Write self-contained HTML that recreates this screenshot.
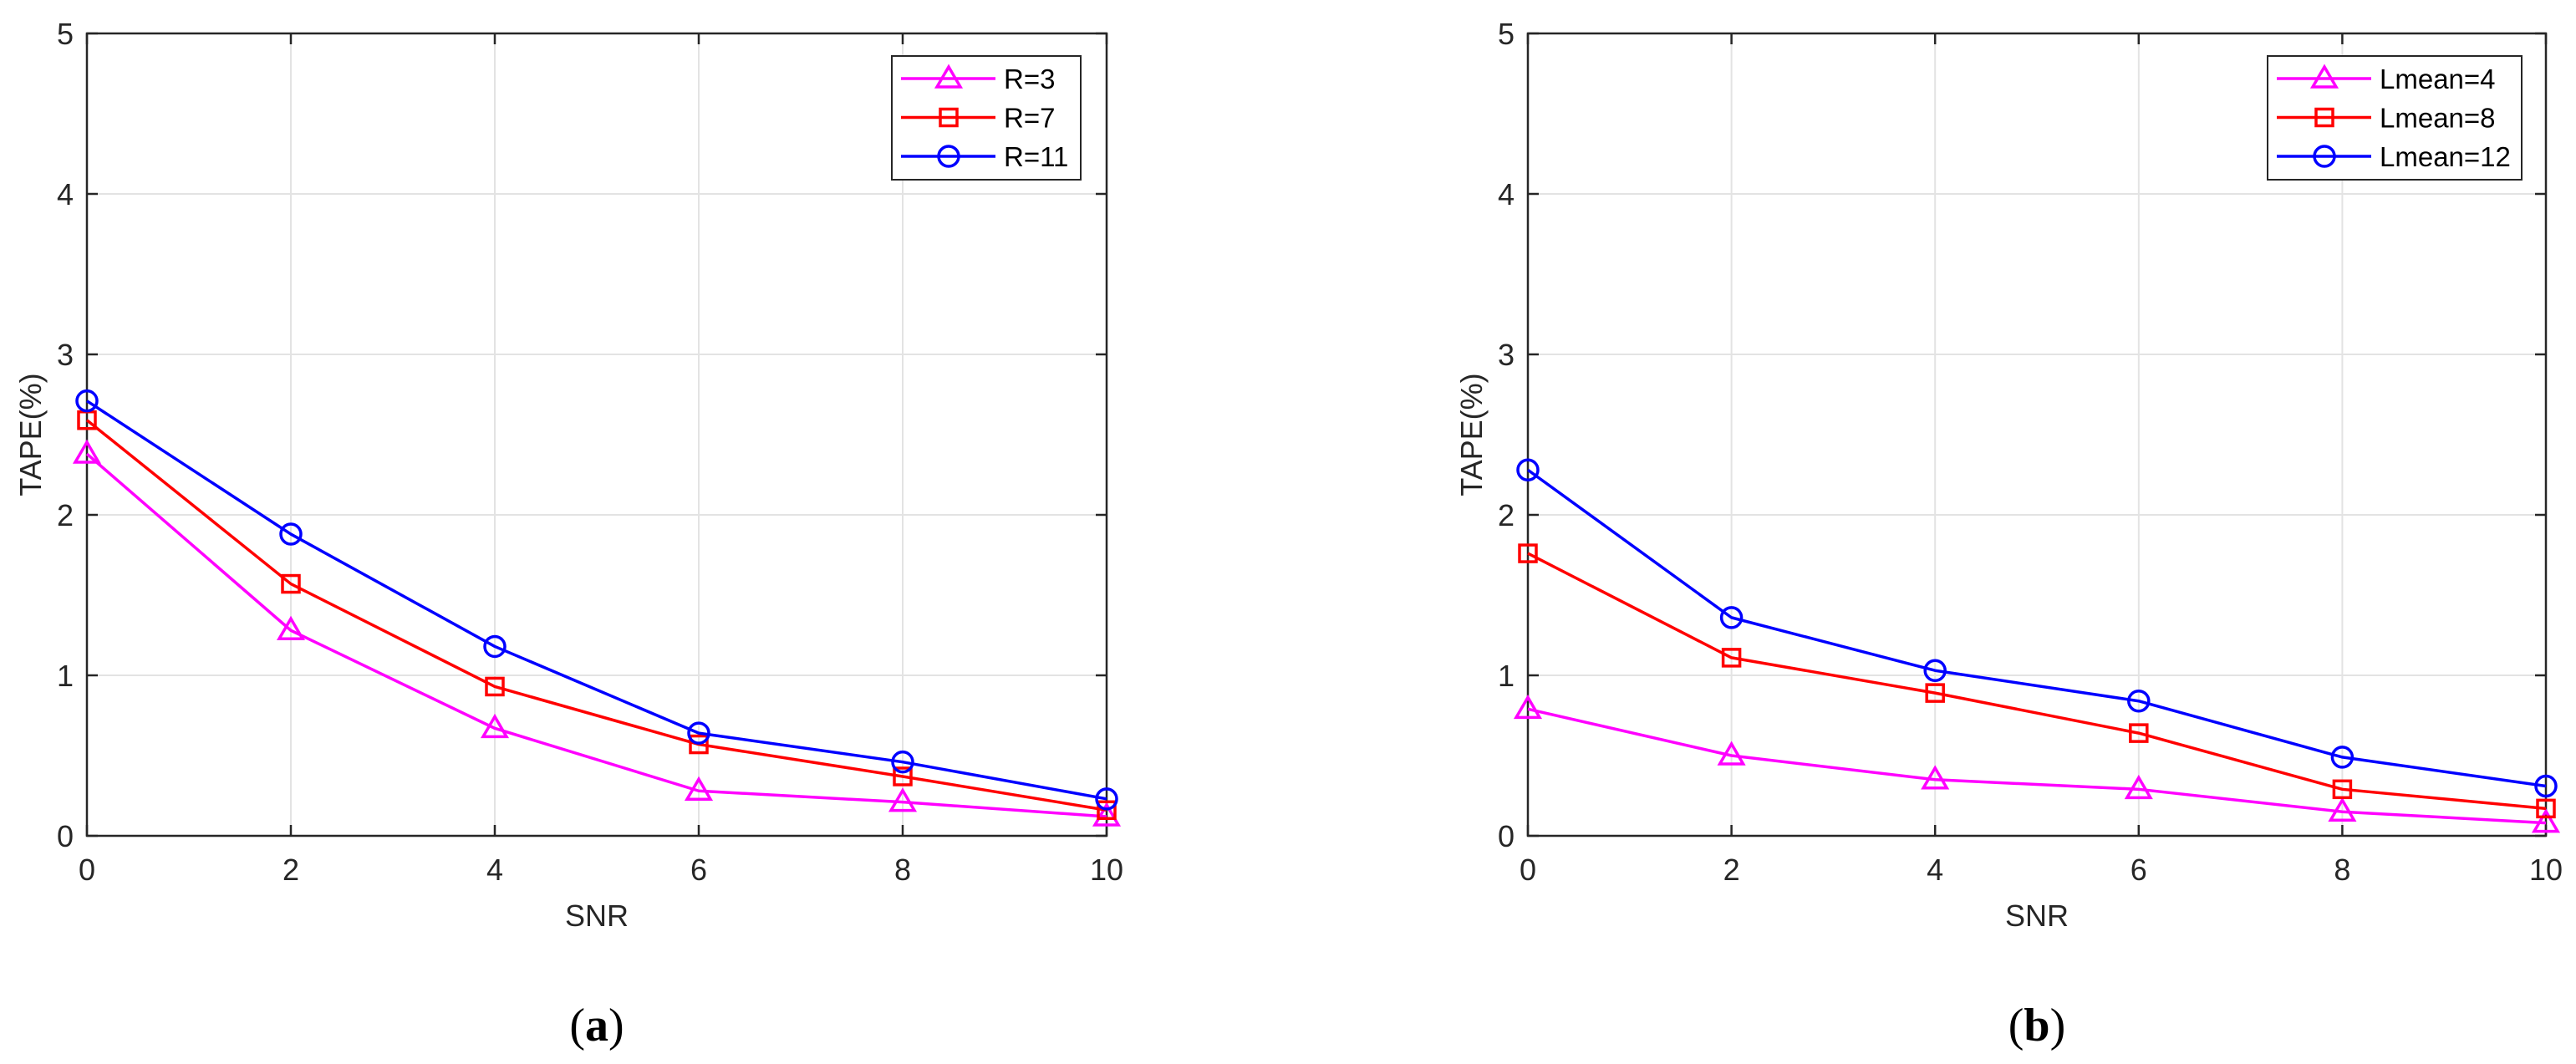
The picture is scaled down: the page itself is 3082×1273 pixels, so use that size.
<!DOCTYPE html>
<html><head><meta charset="utf-8"><style>
html,body{margin:0;padding:0;background:#fff;}
svg{display:block;}
</style></head><body>
<svg id="fig" width="3082" height="1273" viewBox="0 0 3082 1273" xmlns="http://www.w3.org/2000/svg" font-family="Liberation Sans, sans-serif"></svg>
<script>
const snr = [0, 2, 4, 6, 8, 10];
const xTicks = [0, 2, 4, 6, 8, 10];
const yTicks = [0, 1, 2, 3, 4, 5];
const seriesA_R3 = [2.38, 1.28, 0.67, 0.28, 0.21, 0.12];
const seriesA_R7 = [2.59, 1.57, 0.93, 0.57, 0.37, 0.16];
const seriesA_R11 = [2.71, 1.88, 1.18, 0.64, 0.46, 0.23];
const seriesB_L4 = [0.79, 0.50, 0.35, 0.29, 0.15, 0.08];
const seriesB_L8 = [1.76, 1.11, 0.89, 0.64, 0.29, 0.17];
const seriesB_L12 = [2.28, 1.36, 1.03, 0.84, 0.49, 0.31];
const labelsA = ["R=3", "R=7", "R=11"];
const labelsB = ["Lmean=4", "Lmean=8", "Lmean=12"];

const NS = "http://www.w3.org/2000/svg";
const svg = document.getElementById("fig");
function mk(tag, attrs, parent) {
  const e = document.createElementNS(NS, tag);
  for (const k in attrs) e.setAttribute(k, attrs[k]);
  (parent || svg).appendChild(e);
  return e;
}
const styles = [
  {color: "#ff00ff", marker: "tri"},
  {color: "#ff0000", marker: "sq"},
  {color: "#0000ff", marker: "circ"}
];
function marker(g, type, cx, cy, color) {
  let m;
  if (type === "tri") {
    m = mk("polygon", {points: `${cx},${cy-14} ${cx-14},${cy+10} ${cx+14},${cy+10}`, fill: "none", stroke: color, "stroke-width": 3.5}, g);
  } else if (type === "sq") {
    m = mk("rect", {x: cx-10, y: cy-10, width: 20, height: 20, fill: "none", stroke: color, "stroke-width": 3.5}, g);
  } else {
    m = mk("circle", {cx: cx, cy: cy, r: 12, fill: "none", stroke: color, "stroke-width": 3.5}, g);
  }
  return m;
}

function drawPanel(name, L, R, T, B, seriesList, labels, legBox, caption) {
  const sx = v => L + (v - 0) / 10 * (R - L);
  const sy = v => B - v / 5 * (B - T);
  const g = mk("g", {});
  
  
  // grid
  xTicks.forEach(t => {
    const l = mk("line", {x1: sx(t), x2: sx(t), y1: T, y2: B, stroke: "#e3e3e3", "stroke-width": 2}, g);
    
    
  });
  yTicks.forEach(t => {
    const l = mk("line", {x1: L, x2: R, y1: sy(t), y2: sy(t), stroke: "#e3e3e3", "stroke-width": 2}, g);
    
    
  });
  // axes box
  const box = mk("rect", {x: L, y: T, width: R - L, height: B - T, fill: "none", stroke: "#262626", "stroke-width": 2.5}, g);
  
  
  // ticks
  xTicks.forEach(t => {
    mk("line", {x1: sx(t), x2: sx(t), y1: B, y2: B - 13, stroke: "#262626", "stroke-width": 2.5}, g);
    mk("line", {x1: sx(t), x2: sx(t), y1: T, y2: T + 13, stroke: "#262626", "stroke-width": 2.5}, g);
    const tx = mk("text", {x: sx(t), y: 1053, "text-anchor": "middle", "font-size": 36, fill: "#262626"}, g);
    tx.textContent = t;
    
    
  });
  yTicks.forEach(t => {
    mk("line", {x1: L, x2: L + 13, y1: sy(t), y2: sy(t), stroke: "#262626", "stroke-width": 2.5}, g);
    mk("line", {x1: R, x2: R - 13, y1: sy(t), y2: sy(t), stroke: "#262626", "stroke-width": 2.5}, g);
    const tx = mk("text", {x: L - 16, y: sy(t) + 13, "text-anchor": "end", "font-size": 36, fill: "#262626"}, g);
    tx.textContent = t;
    
    
  });
  // axis titles
  const xt = mk("text", {x: (L + R) / 2, y: 1108, "text-anchor": "middle", "font-size": 36, fill: "#262626"}, g);
  xt.textContent = "SNR";
  
  
  const yt = mk("text", {x: 0, y: 0, "text-anchor": "middle", "font-size": 36, fill: "#262626", transform: `translate(${L - 55},${(T + B) / 2}) rotate(-90)`}, g);
  yt.textContent = "TAPE(%)";
  
  
  // series
  seriesList.forEach((vals, i) => {
    const st = styles[i];
    const sg = mk("g", {}, g);
    
    
    const pts = vals.map((v, j) => sx(snr[j]) + "," + sy(v)).join(" ");
    mk("polyline", {points: pts, fill: "none", stroke: st.color, "stroke-width": 3.5, "stroke-linejoin": "round"}, sg);
    vals.forEach((v, j) => {
      const m = marker(sg, st.marker, sx(snr[j]), sy(v), st.color);
      
      
    });
  });
  // legend
  const lg = mk("g", {}, g);
  
  
  mk("rect", {x: legBox.x, y: 67, width: legBox.w, height: 148, fill: "#fff", stroke: "#262626", "stroke-width": 2}, lg);
  labels.forEach((lab, i) => {
    const y = 94 + i * 46.5;
    const eg = mk("g", {}, lg);
    
    
    mk("line", {x1: legBox.x + 11, x2: legBox.x + 124, y1: y, y2: y, stroke: styles[i].color, "stroke-width": 3.5}, eg);
    marker(eg, styles[i].marker, legBox.x + 68, y, styles[i].color);
    const t = mk("text", {x: legBox.x + 134, y: y + 12, "font-size": 33, fill: "#000"}, eg);
    t.textContent = lab;
  });
  // caption
  const c = mk("text", {x: (L + R) / 2, y: 1245, "text-anchor": "middle", "font-size": 56, "font-family": "Liberation Serif, serif", fill: "#000"}, g);
  c.innerHTML = '(<tspan font-weight="bold">' + caption + '</tspan>)';
  
  
}

drawPanel("panel-a", 104, 1324, 40, 1000, [seriesA_R3, seriesA_R7, seriesA_R11], labelsA, {x: 1067, w: 226}, "a");
drawPanel("panel-b", 1828, 3046, 40, 1000, [seriesB_L4, seriesB_L8, seriesB_L12], labelsB, {x: 2713, w: 304}, "b");
</script>
</body></html>
